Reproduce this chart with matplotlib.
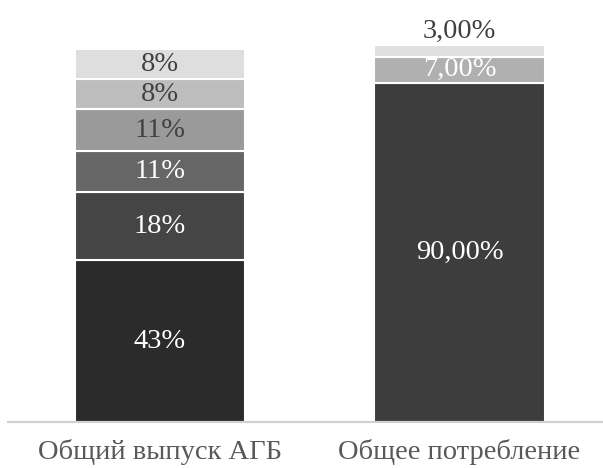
import matplotlib.pyplot as plt

plt.rcParams['font.family'] = ['Liberation Serif', 'DejaVu Serif']

categories = ['Общий выпуск АГБ', 'Общее потребление']

# Структура выпуска (снизу вверх)
output_values = [43, 18, 11, 11, 8, 8]
output_labels = ['43%', '18%', '11%', '11%', '8%', '8%']
output_colors = ['#2b2b2b', '#454545', '#666666', '#9a9a9a', '#bdbdbd', '#dedede']
output_text = ['white', 'white', 'white', '#404040', '#404040', '#404040']

# Структура потребления (снизу вверх)
use_values = [90, 7, 3]
use_labels = ['90,00%', '7,00%', '3,00%']
use_colors = ['#3d3d3d', '#b0b0b0', '#e0e0e0']
use_text = ['white', 'white', '#404040']

fig = plt.figure(figsize=(6.03, 4.68), dpi=100)
ax = fig.add_axes([0.013, 0.098, 0.987, 0.902])

width = 0.568
fs = 20.5


def stack(x, values, labels, colors, text_colors):
    bottom = 0
    for v, lab, c, tc in zip(values, labels, colors, text_colors):
        ax.bar(x, v, width, bottom=bottom, color=c, edgecolor='white', linewidth=1.5)
        if v < 5:
            # маленький сегмент: подпись над столбцом
            ax.text(x, bottom + v + 0.3, lab, ha='center', va='bottom',
                    color=tc, fontsize=fs)
        else:
            ax.text(x, bottom + v / 2, lab, ha='center', va='center',
                    color=tc, fontsize=fs)
        bottom += v


stack(0, output_values, output_labels, output_colors, output_text)
stack(1, use_values, use_labels, use_colors, use_text)

ax.set_xlim(-0.5075, 1.479)
ax.set_ylim(0, 112)
ax.set_xticks([0, 1])
ax.set_xticklabels(categories, fontsize=fs, color='#595959')
ax.tick_params(axis='x', length=0, pad=12)
ax.set_yticks([])
for side in ['top', 'right', 'left']:
    ax.spines[side].set_visible(False)
ax.spines['bottom'].set_color('#d0d0d0')
ax.spines['bottom'].set_linewidth(1.5)

fig.savefig('out.png', dpi=100)
